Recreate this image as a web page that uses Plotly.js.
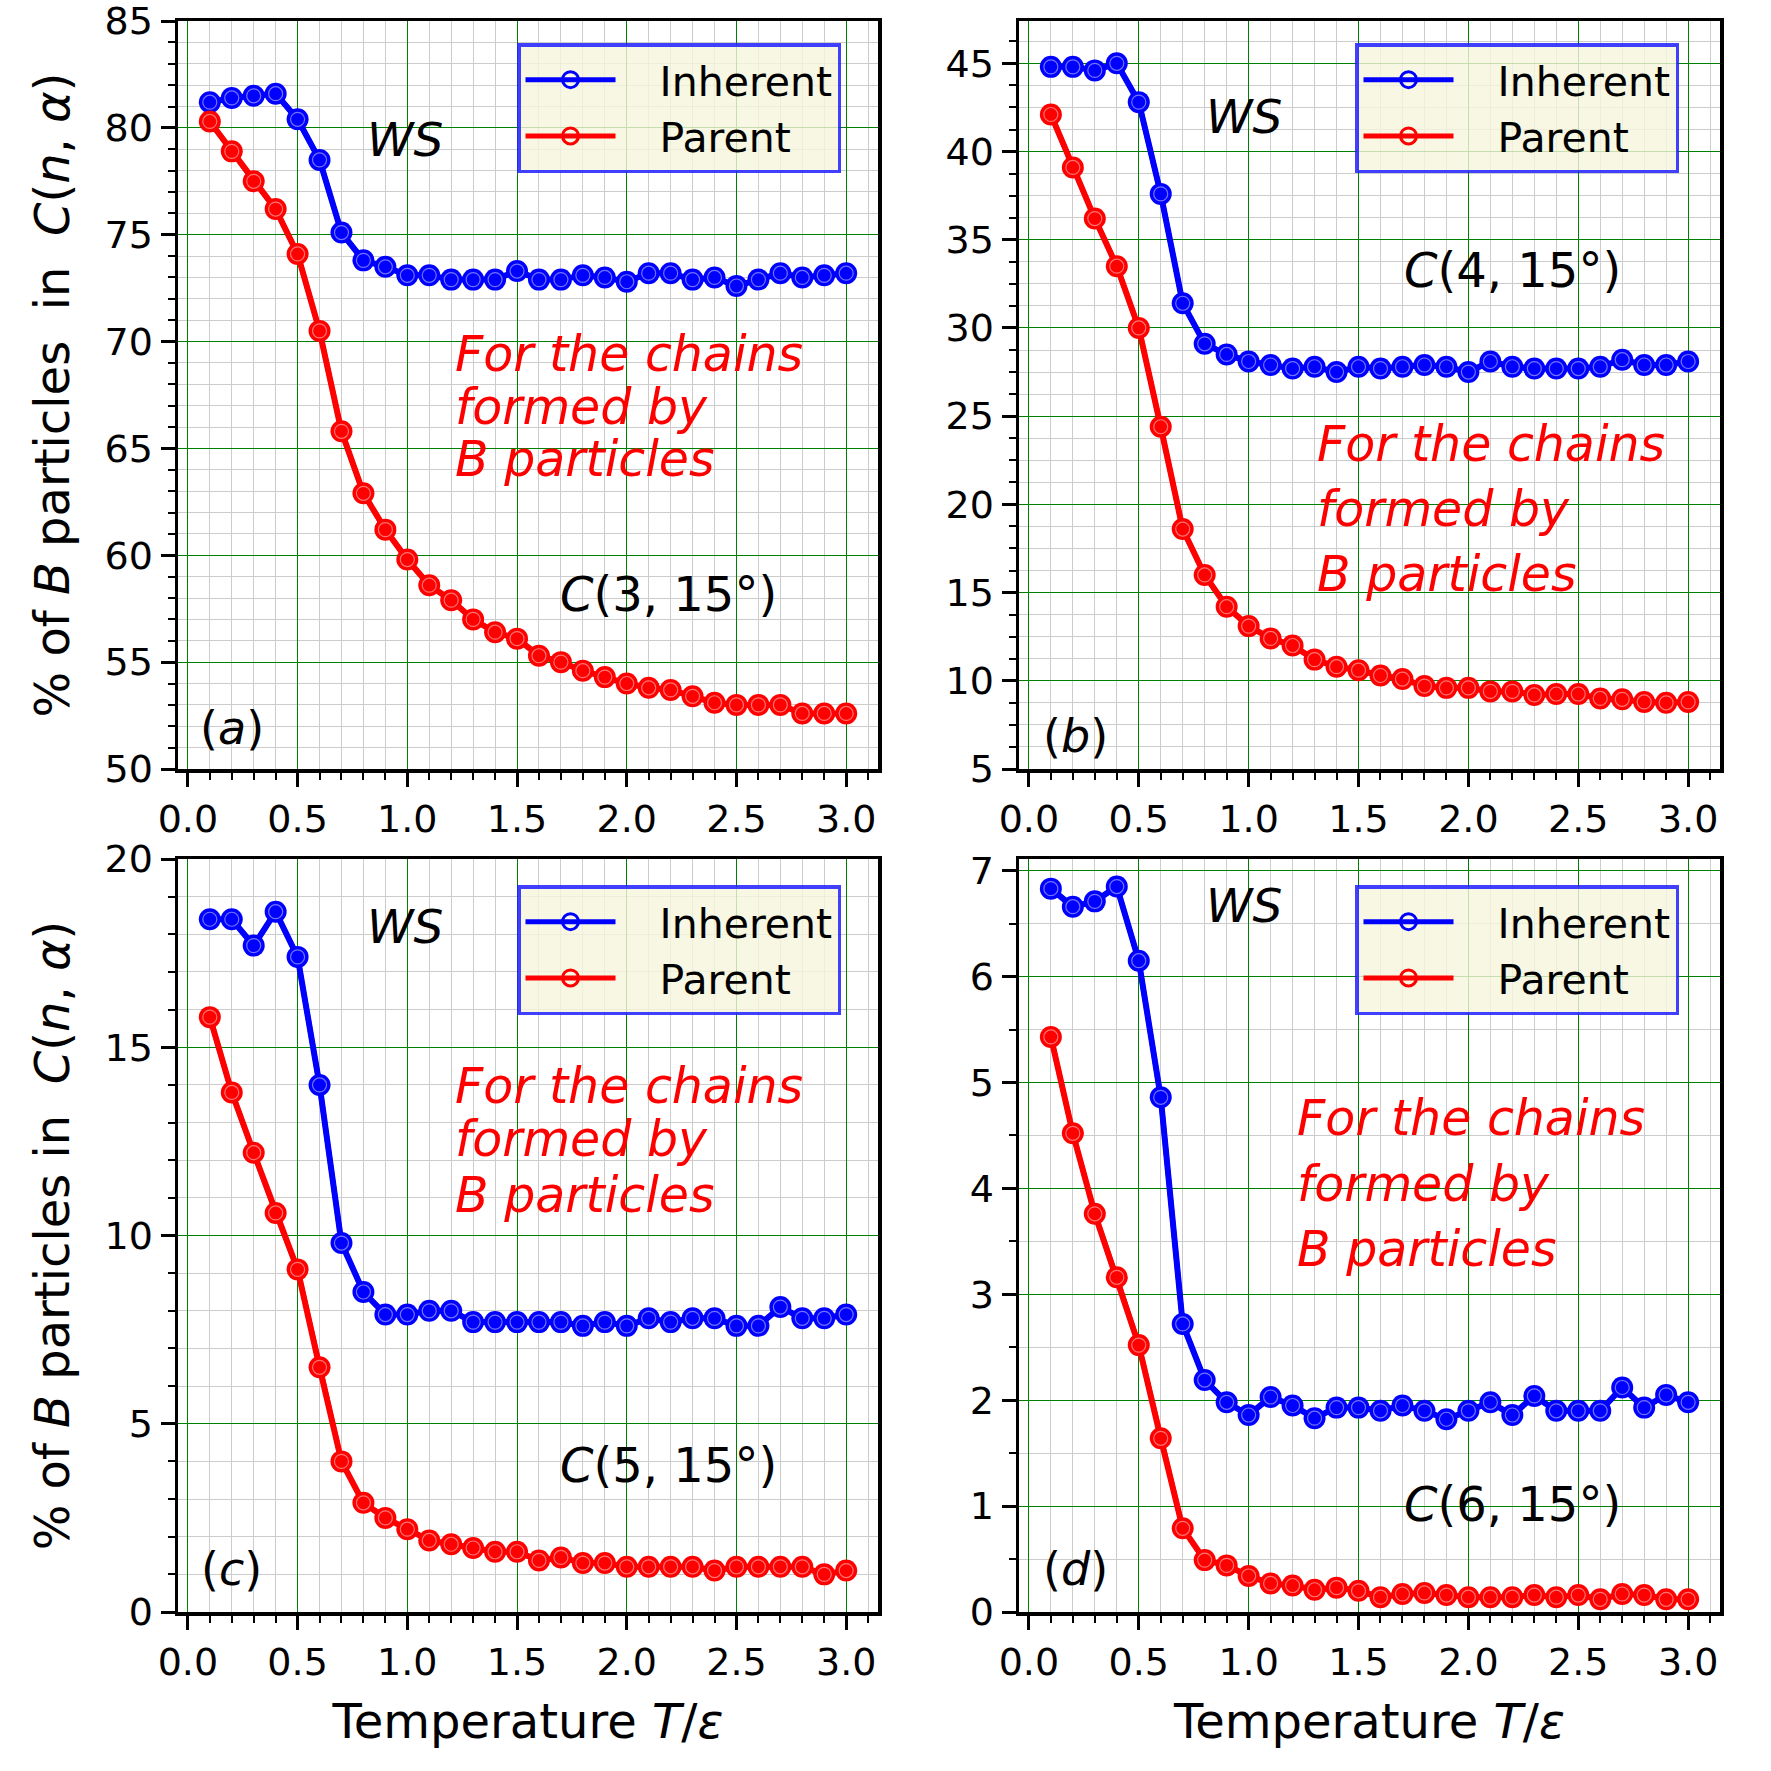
<!DOCTYPE html>
<html>
<head>
<meta charset="utf-8">
<script src="https://cdn.plot.ly/plotly-3.0.1.min.js"></script>
<style>
body { margin: 0; background: #fff; }
#chart { width: 1771px; height: 1771px; }
</style>
</head>
<body>
<div id="chart"></div>
<script>
// temperature T/eps
const temps = [0.1,0.2,0.3,0.4,0.5,0.6,0.7,0.8,0.9,1.0,1.1,1.2,1.3,1.4,1.5,1.6,1.7,1.8,1.9,2.0,2.1,2.2,2.3,2.4,2.5,2.6,2.7,2.8,2.9,3.0];

// (a) C(3,15deg)
const inherentA = [81.2,81.4,81.5,81.6,80.4,78.5,75.1,73.8,73.5,73.1,73.1,72.9,72.9,72.9,73.3,72.9,72.9,73.1,73.0,72.8,73.2,73.2,72.9,73.0,72.6,72.9,73.2,73.0,73.1,73.2];
const parentA   = [80.3,78.9,77.5,76.2,74.1,70.5,65.8,62.9,61.2,59.8,58.6,57.9,57.0,56.4,56.1,55.3,55.0,54.6,54.3,54.0,53.8,53.7,53.4,53.1,53.0,53.0,53.0,52.6,52.6,52.6];
// (b) C(4,15deg)
const inherentB = [44.8,44.8,44.6,45.0,42.8,37.6,31.4,29.1,28.5,28.1,27.9,27.7,27.8,27.5,27.8,27.7,27.8,27.9,27.8,27.5,28.1,27.8,27.7,27.7,27.7,27.8,28.2,27.9,27.9,28.1];
const parentB   = [42.1,39.1,36.2,33.5,30.0,24.4,18.6,16.0,14.2,13.1,12.4,12.0,11.2,10.8,10.6,10.3,10.1,9.7,9.6,9.6,9.4,9.4,9.2,9.25,9.25,9.0,8.95,8.8,8.75,8.8];
// (c) C(5,15deg)
const inherentC = [18.4,18.4,17.7,18.6,17.4,14.0,9.8,8.5,7.9,7.9,8.0,8.0,7.7,7.7,7.7,7.7,7.7,7.6,7.7,7.6,7.8,7.7,7.8,7.8,7.6,7.6,8.1,7.8,7.8,7.9];
const parentC   = [15.8,13.8,12.2,10.6,9.1,6.5,4.0,2.9,2.5,2.2,1.9,1.8,1.7,1.6,1.6,1.37,1.45,1.3,1.3,1.2,1.2,1.2,1.2,1.1,1.2,1.2,1.2,1.2,1.0,1.1];
// (d) C(6,15deg)
const inherentD = [6.83,6.66,6.71,6.85,6.15,4.86,2.72,2.19,1.98,1.86,2.03,1.95,1.83,1.93,1.93,1.9,1.95,1.9,1.82,1.9,1.98,1.86,2.04,1.9,1.9,1.9,2.12,1.93,2.05,1.98];
const parentD   = [5.43,4.52,3.76,3.16,2.52,1.64,0.79,0.49,0.44,0.34,0.27,0.25,0.21,0.23,0.2,0.14,0.17,0.18,0.16,0.14,0.14,0.14,0.16,0.14,0.16,0.12,0.17,0.16,0.12,0.12];

const panelLetters = ['a', 'b', 'c', 'd'];
const clusterSizes = ['3', '4', '5', '6'];
const seriesNames = ['Inherent', 'Parent'];

const FONT = 'DejaVu Sans, sans-serif';
const BLUE = '#0000ff';
const RED = '#ff0000';
const PAD = '\u00a0\u00a0\u00a0'; // gap between legend line and label

// one series = filled markers + legend copy (open circle) + faint inner ring
function series(x, y, color, name, xa, ya, leg){
    return [
        {x: x, y: y, xaxis: xa, yaxis: ya, mode: 'lines+markers', showlegend: false,
         line: {color: color, width: 6}, marker: {symbol: 'circle', size: 22, color: color}},
        {x: x, y: y, xaxis: xa, yaxis: ya, mode: 'lines+markers', name: PAD + name, legend: leg,
         line: {color: color, width: 5},
         marker: {symbol: 'circle-open', size: 17, color: color, line: {width: 3, color: color}}},
        {x: x, y: y, xaxis: xa, yaxis: ya, mode: 'markers', showlegend: false, hoverinfo: 'skip',
         marker: {symbol: 'circle-open', size: 14, color: 'rgba(255,255,255,0.45)', line: {width: 1.2, color: 'rgba(255,255,255,0.45)'}}}
    ];
}

let data = [];
data = data.concat(series(temps, inherentA, BLUE, seriesNames[0], 'x', 'y', 'legend'));
data = data.concat(series(temps, parentA, RED, seriesNames[1], 'x', 'y', 'legend'));
data = data.concat(series(temps, inherentB, BLUE, seriesNames[0], 'x2', 'y2', 'legend2'));
data = data.concat(series(temps, parentB, RED, seriesNames[1], 'x2', 'y2', 'legend2'));
data = data.concat(series(temps, inherentC, BLUE, seriesNames[0], 'x3', 'y3', 'legend3'));
data = data.concat(series(temps, parentC, RED, seriesNames[1], 'x3', 'y3', 'legend3'));
data = data.concat(series(temps, inherentD, BLUE, seriesNames[0], 'x4', 'y4', 'legend4'));
data = data.concat(series(temps, parentD, RED, seriesNames[1], 'x4', 'y4', 'legend4'));

// minor tick positions, skipping the major ones so grid lines do not double up
function minorVals(lo, hi, step, major){
    let vals = [];
    for (let n = Math.ceil(lo / step); n * step <= hi + 1e-9; n++){
        let v = Math.round(n * step * 1000) / 1000;
        let r = Math.abs(v / major - Math.round(v / major));
        if (r > 1e-6) vals.push(v);
    }
    return vals;
}

function xAxis(domain, anchor, withTitle){
    return {
        domain: domain, anchor: anchor, range: [-0.045, 3.145],
        tickmode: 'linear', tick0: 0, dtick: 0.5, tickformat: '.1f',
        ticks: 'outside', ticklen: 14, tickwidth: 3, tickcolor: 'black',
        showline: true, linewidth: 3.5, linecolor: 'black', mirror: true,
        showgrid: true, gridcolor: '#008000', gridwidth: 1, zeroline: false,
        minor: {tickmode: 'array', tickvals: minorVals(0, 3.1, 0.1, 0.5), ticks: 'outside', ticklen: 7, tickwidth: 2, tickcolor: 'black',
                showgrid: true, gridcolor: '#cccccc', gridwidth: 1},
        tickfont: {family: FONT, size: 38, color: 'black'}, ticklabeloverflow: 'allow',
        title: withTitle ? {text: 'Temperature <i>T</i>/<i>ε</i>', font: {family: FONT, size: 48, color: 'black'}, standoff: 22} : {text: ''}
    };
}
function yAxis(domain, anchor, range, dtick, minorStep, title){
    return {
        domain: domain, anchor: anchor, range: range,
        tickmode: 'linear', tick0: 0, dtick: dtick,
        ticks: 'outside', ticklen: 14, tickwidth: 3, tickcolor: 'black',
        showline: true, linewidth: 3.5, linecolor: 'black', mirror: true,
        showgrid: true, gridcolor: '#008000', gridwidth: 1, zeroline: false,
        minor: {tickmode: 'array', tickvals: minorVals(range[0], range[1], minorStep, dtick), ticks: 'outside', ticklen: 7, tickwidth: 2, tickcolor: 'black',
                showgrid: true, gridcolor: '#cccccc', gridwidth: 1},
        tickfont: {family: FONT, size: 38, color: 'black'}, ticklabeloverflow: 'allow',
        title: title ? {text: title, font: {family: FONT, size: 48, color: 'black'}, standoff: 20} : {text: ''}
    };
}
function legendBox(x, y){
    return {x: x, y: y, xanchor: 'right', yanchor: 'top',
        bgcolor: 'rgba(245,245,220,0.8)', bordercolor: 'rgba(30,30,255,0.85)', borderwidth: 3.5,
        font: {family: FONT, size: 41, color: 'black'}, itemwidth: 90, itemsizing: 'trace'};
}

// text notes in each panel (data coordinates of that panel)
const notes = [
    {xr: 'x',  yr: 'y',  ws: [0.99, 79.45], red: [1.21, [69.4, 66.9, 64.5]],  c: [2.19, 58.2], lab: [0.20, 51.9]},
    {xr: 'x2', yr: 'y2', ws: [0.98, 42.0],  red: [1.30, [23.4, 19.7, 16.0]],  c: [2.20, 33.3], lab: [0.21, 6.85]},
    {xr: 'x3', yr: 'y3', ws: [0.99, 18.2],  red: [1.21, [13.95, 12.55, 11.05]], c: [2.19, 3.9], lab: [0.20, 1.14]},
    {xr: 'x4', yr: 'y4', ws: [0.98, 6.67],  red: [1.21, [4.66, 4.04, 3.42]],  c: [2.20, 1.02], lab: [0.21, 0.41]}
];
const redLines = ['For the chains', 'formed by', 'B particles'];

let annotations = [];
notes.forEach(function(n, i){
    annotations.push({xref: n.xr, yref: n.yr, x: n.ws[0], y: n.ws[1], text: '<i>WS</i>', showarrow: false,
        font: {family: FONT, size: 47, color: 'black'}});
    redLines.forEach(function(t, k){
        annotations.push({xref: n.xr, yref: n.yr, x: n.red[0], y: n.red[1][k], xanchor: 'left', text: '<i>' + t + '</i>',
            showarrow: false, font: {family: FONT, size: 49, color: RED}});
    });
    annotations.push({xref: n.xr, yref: n.yr, x: n.c[0], y: n.c[1], text: '<i>C</i>(' + clusterSizes[i] + ', 15°)',
        showarrow: false, font: {family: FONT, size: 48, color: 'black'}});
    annotations.push({xref: n.xr, yref: n.yr, x: n.lab[0], y: n.lab[1], text: '(<i>' + panelLetters[i] + '</i>)',
        showarrow: false, font: {family: FONT, size: 46, color: 'black'}});
});

const colL = [178/1771, 878/1771];
const colR = [1019/1771, 1720/1771];
const rowT = [(1771-769)/1771, (1771-21)/1771];
const rowB = [(1771-1612)/1771, (1771-859)/1771];

const layout = {
    width: 1771, height: 1771,
    margin: {l: 0, r: 0, t: 0, b: 0},
    paper_bgcolor: 'white', plot_bgcolor: 'white',
    font: {family: FONT, color: 'black'},
    xaxis:  xAxis(colL, 'y', false),
    yaxis:  yAxis(rowT, 'x', [50, 85.0005], 5, 1, '% of <i>B</i> particles\u00a0 in\u00a0 <i>C</i>(<i>n</i>, <i>α</i>)'),
    xaxis2: xAxis(colR, 'y2', false),
    yaxis2: yAxis(rowT, 'x2', [5, 47.4], 5, 1.25, null),
    xaxis3: xAxis(colL, 'y3', true),
    yaxis3: yAxis(rowB, 'x3', [0, 20.0003], 5, 1, '% of <i>B</i> particles in\u00a0 <i>C</i>(<i>n</i>, <i>α</i>)'),
    xaxis4: xAxis(colR, 'y4', true),
    yaxis4: yAxis(rowB, 'x4', [0, 7.11], 1, 0.5, null),
    legend:  legendBox(841/1771, (1771-43)/1771),
    legend2: legendBox(1679/1771, (1771-43)/1771),
    legend3: legendBox(841/1771, (1771-885)/1771),
    legend4: legendBox(1679/1771, (1771-885)/1771),
    annotations: annotations,
    showlegend: true
};

Plotly.newPlot('chart', data, layout, {displayModeBar: false, staticPlot: true});
</script>
</body>
</html>
